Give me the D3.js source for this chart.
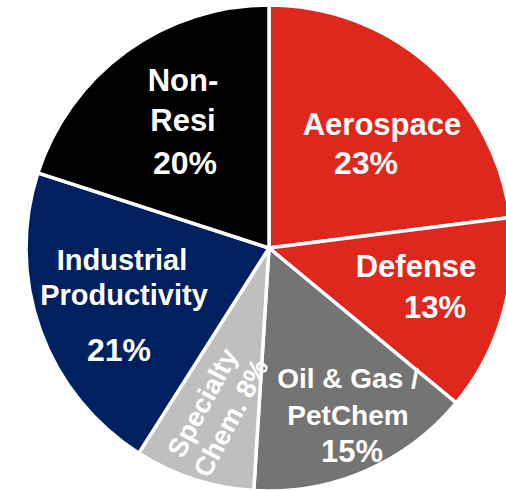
<!DOCTYPE html>
<html>
<head>
<meta charset="utf-8">
<script src="https://cdn.jsdelivr.net/npm/d3@7"></script>
<style>
  html, body { margin: 0; padding: 0; background: #fff; }
  svg { display: block; }
  text { font-family: "Liberation Sans", Arial, sans-serif; font-weight: bold; fill: #fff; }
</style>
</head>
<body>
<svg id="chart" width="506" height="490"></svg>
<script>
// End-market mix, clockwise from 12 o'clock
const segments = ["Aerospace", "Defense", "Oil & Gas / PetChem", "Specialty Chem.", "Industrial Productivity", "Non-Resi"];
const shares = [23, 13, 15, 8, 21, 20];
const colors = ["#e0271e", "#e0271e", "#747474", "#bfbfbf", "#00205f", "#000000"];

// Label lines per segment, with the share appended as its own line
const labelLines = [
  ["Aerospace", "23%"],
  ["Defense", "13%"],
  ["Oil & Gas /", "PetChem", "15%"],
  ["Specialty", "Chem. 8%"],
  ["Industrial", "Productivity", "21%"],
  ["Non-", "Resi", "20%"]
];

const svg = d3.select("#chart");
const cx = 269, cy = 248, radius = 243;

const pie = d3.pie().sort(null).value(d => d)(shares);
const arc = d3.arc().innerRadius(0).outerRadius(radius);

const g = svg.append("g").attr("transform", `translate(${cx},${cy})`);

g.selectAll("path")
  .data(pie)
  .join("path")
  .attr("d", arc)
  .attr("fill", (d, i) => colors[i])
  .attr("stroke", "#fff")
  .attr("stroke-width", 3.5)
  .attr("stroke-linejoin", "miter");

// Label layout: group anchor, font sizes per line, [x, baseline] per line
const labelLayout = [
  { x: 0, y: 0, sizes: [31, 32], lines: [[382, 135], [366, 174]] },
  { x: 0, y: 0, sizes: [31, 31], lines: [[416, 277], [435, 318]] },
  { x: 0, y: 0, sizes: [28, 28, 31], lines: [[348, 388], [348, 425], [352, 462]] },
  { x: 216, y: 410, sizes: [27, 27], rotate: -62, lines: [[0, -6], [0, 26]] },
  { x: 0, y: 0, sizes: [29, 29, 32], lines: [[122, 270], [124, 305], [119, 361]] },
  { x: 0, y: 0, sizes: [31, 31, 32], lines: [[183, 91], [183, 131], [185, 174]] }
];

const labels = svg.append("g");
labelLayout.forEach((L, i) => {
  const grp = labels.append("g")
    .attr("transform", `translate(${L.x},${L.y})` + (L.rotate ? ` rotate(${L.rotate})` : ""));
  labelLines[i].forEach((t, j) => {
    grp.append("text")
      .attr("x", L.lines[j][0])
      .attr("y", L.lines[j][1])
      .attr("text-anchor", "middle")
      .attr("font-size", L.sizes[j])
      .text(t);
  });
});
</script>
</body>
</html>
